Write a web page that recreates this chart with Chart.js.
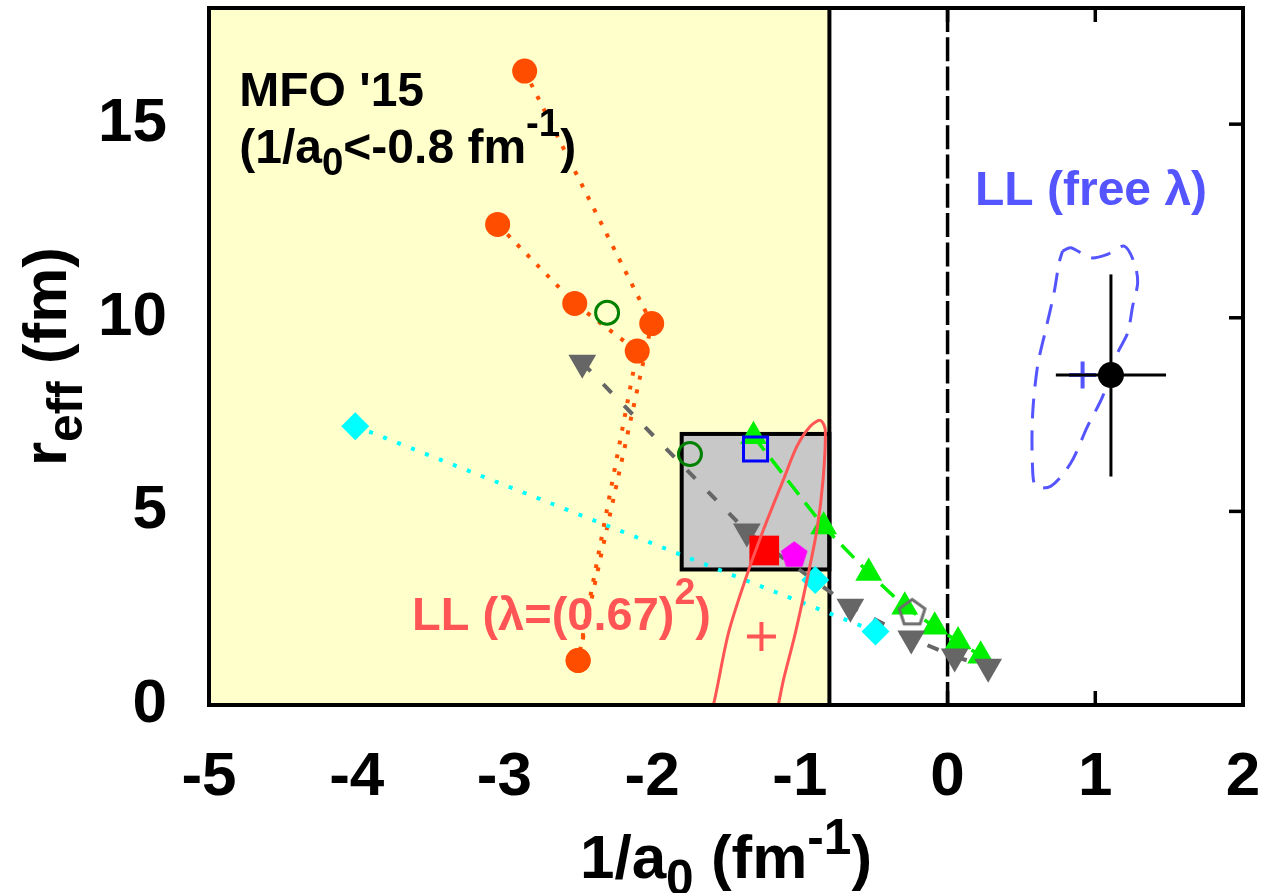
<!DOCTYPE html>
<html>
<head>
<meta charset="utf-8">
<script src="https://cdn.jsdelivr.net/npm/chart.js@4.4.0/dist/chart.umd.min.js"></script>
<style>
  html, body { margin: 0; padding: 0; background: #ffffff; }
  canvas { display: block; }
</style>
</head>
<body>
<canvas id="chart" width="1266" height="893"></canvas>
<script>
// ---- axes ----
const xTickValues = [-5, -4, -3, -2, -1, 0, 1, 2];
const yTickValues = [0, 5, 10, 15];
const xRange = [-5, 2];
const yRange = [0, 18];

// ---- shaded regions and reference lines ----
const mfoRegionX = [-5, -0.8];      // MFO '15 allowed region (1/a0 < -0.8 fm^-1)
const boxX = [-1.8, -0.8];          // grey box
const boxY = [3.5, 7.0];
const dashedLineX = [0];

// ---- model curves (orange, dotted) ----
const orangeAX = [-2.863, -2.003, -2.501];
const orangeAY = [16.37, 9.85, 1.15];
const orangeBX = [-3.046, -2.524, -2.101, -2.501];
const orangeBY = [12.41, 10.37, 9.14, 1.15];

// ---- grey down-triangles (dashed) ----
const greyTriX = [-2.473, -1.359, -0.658, -0.246, 0.048, 0.275];
const greyTriY = [8.84, 4.48, 2.54, 1.72, 1.25, 0.99];

// ---- green up-triangles (dashed) ----
const greenTriX = [-1.314, -0.839, -0.534, -0.290, -0.087, 0.071, 0.224];
const greenTriY = [6.94, 4.61, 3.41, 2.54, 2.02, 1.64, 1.27];

// ---- cyan diamonds (dotted) ----
const cyanLineX = [-4.01, -0.488];
const cyanLineY = [7.20, 1.90];
const cyanSingleX = [-0.896];
const cyanSingleY = [3.23];

// ---- single markers ----
const openCircleX = [-2.305, -1.744];
const openCircleY = [10.13, 6.48];
const greyPentX = [-0.24];
const greyPentY = [2.41];
const blueSquareX = [-1.30];
const blueSquareY = [6.61];
const redSquareX = [-1.241];
const redSquareY = [3.99];
const magentaX = [-1.038];
const magentaY = [3.90];
const redPlusX = [-1.26];
const redPlusY = [1.77];
const bluePlusX = [0.914];
const bluePlusY = [8.52];

// ---- measurement with error bars ----
const pointX = [1.106];
const pointY = [8.52];
const errX = [0.733, 1.479];
const errY = [5.90, 11.12];

// ---- LL contours ----
const llRedX = [-1.66, -1.585, -1.484, -1.370, -1.246, -1.111, -1.020, -0.929, -0.862, -0.828, -0.843, -0.884, -0.952, -1.031, -1.111, -1.144, -1.21];
const llRedY = [-1.0, 0.0, 1.85, 3.23, 4.53, 5.82, 6.68, 7.20, 7.35, 7.11, 5.82, 4.53, 3.23, 1.85, 0.65, 0.04, -1.0];
const llBlueX = [0.778, 0.834, 0.970, 1.083, 1.196, 1.264, 1.287, 1.253, 1.219, 1.151, 1.050, 0.948, 0.834, 0.699, 0.597, 0.575, 0.575, 0.609, 0.665, 0.721, 0.755, 0.778];
const llBlueY = [11.72, 11.81, 11.55, 11.64, 11.85, 11.42, 10.91, 10.30, 9.61, 9.09, 7.97, 7.20, 6.25, 5.65, 5.65, 6.16, 7.46, 8.75, 9.70, 10.65, 11.42, 11.72];

const zip = (xs, ys) => xs.map((v, i) => ({ x: v, y: ys[i] }));

const FONT = "'Liberation Sans', Arial, Helvetica, sans-serif";
const RED_TXT = 'rgb(255,85,85)';
const BLUE_TXT = 'rgb(85,85,255)';

// filled / open pentagon marker
function pentagon(r, fill, stroke, lw) {
  const size = Math.ceil(2 * r + 2 * lw + 2);
  const c = document.createElement('canvas');
  c.width = c.height = size;
  const g = c.getContext('2d');
  const cx = size / 2, cy = size / 2 + 0.0955 * r;
  g.beginPath();
  for (let i = 0; i < 5; i++) {
    const a = -Math.PI / 2 + i * 2 * Math.PI / 5;
    g.lineTo(cx + r * Math.cos(a), cy + r * Math.sin(a));
  }
  g.closePath();
  if (fill) { g.fillStyle = fill; g.fill(); }
  if (stroke) { g.strokeStyle = stroke; g.lineWidth = lw; g.stroke(); }
  return c;
}

// text with sub/superscripts: parts = [[text, kind]], kind '' | 'sub' | 'sup'
function drawRich(ctx, parts, x, y, size, align, color, supShift, subShift) {
  const items = parts.map(([t, k]) => {
    const s = k ? size * 0.8 : size;
    ctx.font = `bold ${s}px ${FONT}`;
    const w = ctx.measureText(t).width;
    const dy = k === 'sub' ? size * subShift : (k === 'sup' ? -size * supShift : 0);
    return { t, s, w, dy };
  });
  const total = items.reduce((acc, it) => acc + it.w, 0);
  let cx = align === 'center' ? x - total / 2 : x;
  ctx.fillStyle = color;
  ctx.textAlign = 'left';
  ctx.textBaseline = 'alphabetic';
  items.forEach(it => {
    ctx.font = `bold ${it.s}px ${FONT}`;
    ctx.fillText(it.t, cx, y + it.dy);
    cx += it.w;
  });
}

const labels = [
  { x: -4.795, y: 15.47, size: 48, color: '#000', parts: [["MFO '15", '']] },
  { x: -4.795, y: 14.00, size: 48, color: '#000',
    parts: [['(1/a', ''], ['0', 'sub'], ['<-0.8 fm', ''], ['-1', 'sup'], [')', '']] },
  { x: 0.186, y: 12.91, size: 48, color: BLUE_TXT, parts: [['LL (free \u03bb)', '']] },
  { x: -3.626, y: 1.94, size: 47, color: RED_TXT,
    parts: [['LL (\u03bb=(0.67)', ''], ['2', 'sup'], [')', '']] }
];

const decor = {
  id: 'decor',
  beforeDatasetsDraw(chart) {
    const { ctx, chartArea: a, scales: { x, y } } = chart;
    const seg = (x1, y1, x2, y2) => { ctx.beginPath(); ctx.moveTo(x1, y1); ctx.lineTo(x2, y2); ctx.stroke(); };
    ctx.save();
    // mirrored tick marks
    ctx.strokeStyle = '#000';
    ctx.lineWidth = 3.5;
    xTickValues.forEach(v => {
      const p = x.getPixelForValue(v);
      seg(p, a.bottom, p, a.bottom - 14);
      seg(p, a.top, p, a.top + 14);
    });
    yTickValues.forEach(v => {
      const p = y.getPixelForValue(v);
      seg(a.left, p, a.left + 14, p);
      seg(a.right, p, a.right - 14, p);
    });
    // MFO region
    const rx0 = x.getPixelForValue(mfoRegionX[0]);
    const rx1 = x.getPixelForValue(mfoRegionX[1]);
    ctx.fillStyle = '#ffffcc';
    ctx.fillRect(rx0, a.top, rx1 - rx0, a.bottom - a.top);
    // grey box
    const bx0 = x.getPixelForValue(boxX[0]), bx1 = x.getPixelForValue(boxX[1]);
    const by0 = y.getPixelForValue(boxY[1]), by1 = y.getPixelForValue(boxY[0]);
    ctx.fillStyle = '#c8c8c8';
    ctx.fillRect(bx0, by0, bx1 - bx0, by1 - by0);
    ctx.lineWidth = 4;
    ctx.strokeStyle = '#000';
    ctx.strokeRect(bx0, by0, bx1 - bx0, by1 - by0);
    // region boundary (solid) and zero line (dashed)
    ctx.lineWidth = 4;
    seg(rx1, a.top, rx1, a.bottom);
    ctx.lineWidth = 3.5;
    ctx.setLineDash([24, 5.3]);
    dashedLineX.forEach(v => {
      const p = x.getPixelForValue(v);
      seg(p, a.top, p, a.bottom);
    });
    ctx.restore();
  },
  afterDatasetsDraw(chart) {
    const { ctx, chartArea: a, scales: { x, y } } = chart;
    ctx.save();
    // frame
    ctx.strokeStyle = '#000';
    ctx.lineWidth = 4;
    ctx.strokeRect(a.left, a.top, a.right - a.left, a.bottom - a.top);
    // annotations
    labels.forEach(l => {
      drawRich(ctx, l.parts, x.getPixelForValue(l.x), y.getPixelForValue(l.y), l.size, 'left', l.color, 0.56, 0.25);
    });
    // axis titles
    drawRich(ctx, [['1/a', ''], ['0', 'sub'], [' (fm', ''], ['-1', 'sup'], [')', '']],
      (a.left + a.right) / 2, a.bottom + 173, 62, 'center', '#000', 0.38, 0.28);
    ctx.translate(66, (a.top + a.bottom) / 2);
    ctx.rotate(-Math.PI / 2);
    drawRich(ctx, [['r', ''], ['eff', 'sub'], [' (fm)', '']], 0, 0, 62, 'center', '#000', 0.4, 0.25);
    ctx.restore();
  }
};

const lineDs = (data, color, dash, width, extra) => Object.assign({
  data, showLine: true, borderColor: color, borderWidth: width, borderDash: dash,
  pointRadius: 0, fill: false, tension: 0
}, extra || {});

const datasets = [
  // measurement point (on top of its error bars)
  { data: zip(pointX, pointY), pointStyle: 'circle', pointRadius: 13, backgroundColor: '#000', borderColor: '#000', borderWidth: 0 },
  lineDs([{ x: errX[0], y: pointY[0] }, { x: errX[1], y: pointY[0] }], '#000', [], 3),
  lineDs([{ x: pointX[0], y: errY[0] }, { x: pointX[0], y: errY[1] }], '#000', [], 3),
  { data: zip(bluePlusX, bluePlusY), pointStyle: 'cross', pointRadius: 13.5, borderColor: BLUE_TXT, borderWidth: 4 },
  lineDs(zip(llBlueX, llBlueY), BLUE_TXT, [20, 12], 3, { tension: 0.3 }),
  // LL (lambda fixed) contour
  lineDs(zip(llRedX, llRedY), RED_TXT, [], 3, { tension: 0.3 }),
  { data: zip(redPlusX, redPlusY), pointStyle: 'cross', pointRadius: 14.5, borderColor: RED_TXT, borderWidth: 4 },
  { data: zip(blueSquareX, blueSquareY), pointStyle: 'rect', pointRadius: 17, backgroundColor: 'rgba(0,0,0,0)', borderColor: '#0000ff', borderWidth: 3 },
  { data: zip(greyPentX, greyPentY), pointStyle: pentagon(13.5, null, '#6e6e6e', 3), pointRadius: 14 },
  { data: zip(magentaX, magentaY), pointStyle: pentagon(14, '#ff00ff', null, 0), pointRadius: 14 },
  { data: zip(redSquareX, redSquareY), pointStyle: 'rect', pointRadius: 21, backgroundColor: '#ff0000', borderColor: '#ff0000', borderWidth: 0 },
  { data: zip(openCircleX, openCircleY), pointStyle: 'circle', pointRadius: 11.5, backgroundColor: 'rgba(0,0,0,0)', borderColor: '#008000', borderWidth: 3 },
  { data: zip(cyanSingleX, cyanSingleY), pointStyle: 'rectRot', pointRadius: 14, backgroundColor: '#00ffff', borderColor: '#00ffff', borderWidth: 0 },
  lineDs(zip(cyanLineX, cyanLineY), '#00ffff', [4, 11], 4,
    { pointStyle: 'rectRot', pointRadius: 14, pointBackgroundColor: '#00ffff', pointBorderWidth: 0 }),
  lineDs(zip(greyTriX, greyTriY), '#666666', [12, 18], 4,
    { pointStyle: 'triangle', rotation: 180, pointRadius: 16, pointBackgroundColor: '#666666', pointBorderWidth: 0 }),
  lineDs(zip(greenTriX, greenTriY), '#00f000', [18, 10], 3.5,
    { pointStyle: 'triangle', pointRadius: 15.5, pointBackgroundColor: '#00f000', pointBorderWidth: 0 }),
  lineDs(zip(orangeAX, orangeAY), '#ff5000', [4, 10], 4,
    { pointStyle: 'circle', pointRadius: 12.5, pointBackgroundColor: '#ff4d00', pointBorderWidth: 0 }),
  lineDs(zip(orangeBX, orangeBY), '#ff5000', [4, 10], 4,
    { pointStyle: 'circle', pointRadius: 12.5, pointBackgroundColor: '#ff4d00', pointBorderWidth: 0 })
];

const tickFont = { family: FONT, size: 62, weight: 'bold' };

new Chart(document.getElementById('chart'), {
  type: 'scatter',
  data: { datasets },
  options: {
    responsive: false,
    animation: false,
    events: [],
    layout: { autoPadding: false, padding: { top: 8, right: 23, left: 0, bottom: 0 } },
    plugins: { legend: { display: false }, tooltip: { enabled: false } },
    scales: {
      x: {
        type: 'linear', min: xRange[0], max: xRange[1],
        grid: { display: false, drawTicks: false },
        border: { display: false },
        ticks: { font: tickFont, color: '#000', padding: 36, maxRotation: 0, autoSkip: false },
        afterBuildTicks: s => { s.ticks = xTickValues.map(v => ({ value: v })); },
        afterFit: s => { s.height = 188; s.paddingLeft = 0; s.paddingRight = 0; }
      },
      y: {
        type: 'linear', min: yRange[0], max: yRange[1],
        grid: { display: false, drawTicks: false },
        border: { display: false },
        ticks: { font: tickFont, color: '#000', padding: 42, autoSkip: false },
        afterBuildTicks: s => { s.ticks = yTickValues.map(v => ({ value: v })); },
        afterFit: s => { s.width = 209; s.paddingTop = 0; s.paddingBottom = 0; }
      }
    }
  },
  plugins: [decor]
});
</script>
</body>
</html>
